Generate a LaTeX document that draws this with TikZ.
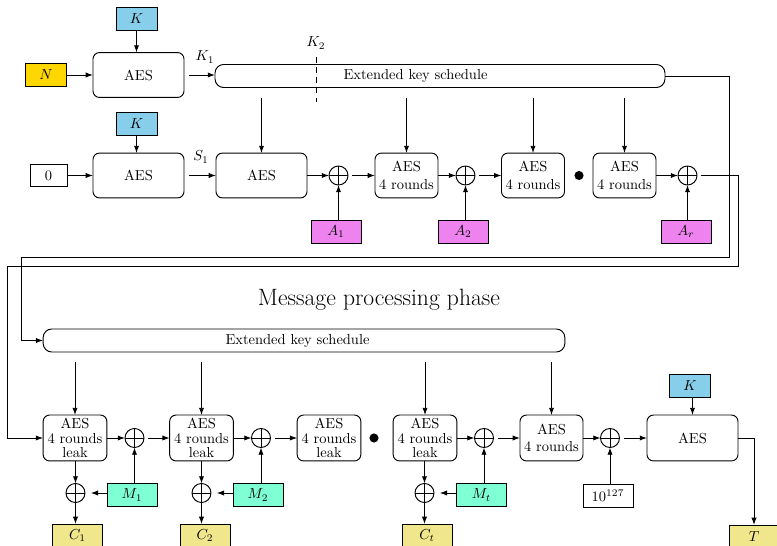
\documentclass[tikz,border=0pt]{standalone}
\usetikzlibrary{arrows.meta}
\definecolor{keyblue}{RGB}{135,206,235}
\definecolor{noncegold}{RGB}{255,215,0}
\definecolor{adviolet}{RGB}{238,130,238}
\definecolor{msgaqua}{RGB}{127,255,212}
\definecolor{outkhaki}{RGB}{240,230,140}
\begin{document}
\begin{tikzpicture}[x=0.69pt,y=-0.69pt,
  every node/.style={inner sep=0pt, outer sep=0pt},
  line width=0.65pt,
  arr/.style={-{Latex[length=5pt,width=3.6pt]}},
  aesbox/.style={draw, rounded corners=4.5pt, minimum width=62.8pt, minimum height=31pt, align=center},
  rndbox/.style={aesbox, minimum width=43.5pt},
  leakbox/.style={aesbox, minimum width=44pt, minimum height=31.7pt, font=\fontsize{10pt}{9.9pt}\selectfont},
  ksbox/.style={draw, rounded corners=6pt, minimum height=15.9pt},
  smallbox/.style={draw, minimum width=34.5pt, minimum height=15.9pt},
  keybox/.style={smallbox, fill=keyblue, minimum width=28.3pt},
  noncebox/.style={smallbox, fill=noncegold, minimum width=28.3pt},
  adbox/.style={smallbox, fill=adviolet},
  msgbox/.style={smallbox, fill=msgaqua},
  outbox/.style={smallbox, fill=outkhaki},
  xor/.style={draw, circle, minimum size=13.1pt,
    path picture={\draw (path picture bounding box.north) -- (path picture bounding box.south)
                        (path picture bounding box.west) -- (path picture bounding box.east);}},
  dotmark/.style={circle, fill, minimum size=6.3pt},
  fromks/.style={arr, shorten <=7pt},
  fromxor/.style={arr, shorten <=3pt}
]
\clip (0,0) rectangle (777,546);

% ---- associated data phase: key derivation ----
\node[keybox] (k1) at (136.5,18.5) {$K$};
\node[noncebox] (n) at (46,75) {$N$};
\node[aesbox] (aes1) at (138.5,75) {AES};
\node[ksbox, minimum width=310.5pt] (eks1) at (440,76) {};
\node (eks1t) at (415.5,76) {Extended key schedule};
\node (k1lab) at (205,57) {$K_1$};
\node (k2lab) at (316,43) {$K_2$};
\coordinate (k2top) at (316,57);
\coordinate (k2bot) at (316,102);
\draw[dash pattern=on 4pt off 3pt] (k2top) -- (k2bot);

\draw[arr] (k1.south) -- (k1.south |- aes1.north);
\draw[arr] (n) -- (aes1);
\draw[arr, shorten <=3.5pt] (aes1.east) -- (aes1.east -| eks1.west);

% ---- associated data absorption ----
\node[keybox] (k2) at (136.5,123.5) {$K$};
\node[smallbox, minimum width=25.5pt, minimum height=15.2pt] (zero) at (48.5,175.5) {0};
\node[aesbox] (aes1b) at (138.5,175.5) {AES};
\node (s1lab) at (201,157) {$S_1$};
\node[aesbox] (aes2) at (261.5,175.5) {AES};
\node[xor] (x1) at (338.5,175.5) {};
\node[adbox] (a1) at (336,231.5) {$A_1$};
\node[rndbox] (r1) at (406.5,175.5) {AES\\4 rounds};
\node[xor] (x2) at (465.5,175.5) {};
\node[adbox] (a2) at (463,231.5) {$A_2$};
\node[rndbox] (r2) at (533,175.5) {AES\\4 rounds};
\node[dotmark] (d1) at (579,175.5) {};
\node[rndbox] (r3) at (624.5,175.5) {AES\\4 rounds};
\node[xor] (x3) at (687.5,175.5) {};
\node[adbox] (ar) at (686,231.5) {$A_r$};

\draw[arr] (k2.south) -- (k2.south |- aes1b.north);
\draw[arr] (zero) -- (aes1b);
\draw[arr, shorten <=3.5pt] (aes1b) -- (aes2);
\draw[arr] (aes2) -- (x1);
\draw[fromxor] (x1) -- (r1);
\draw[arr] (r1) -- (x2);
\draw[fromxor] (x2) -- (r2);
\draw[arr] (r3) -- (x3);
\draw[arr] (a1.north -| x1) -- (x1.south);
\draw[arr] (a2.north -| x2) -- (x2.south);
\draw[arr] (ar.north -| x3) -- (x3.south);

\draw[fromks] (eks1.south -| aes2) -- (aes2.north);
\draw[fromks] (eks1.south -| r1) -- (r1.north);
\draw[fromks] (eks1.south -| r2) -- (r2.north);
\draw[fromks] (eks1.south -| r3) -- (r3.north);

% ---- links into the message phase ----
\coordinate (bendA) at (729,257);
\coordinate (bendB) at (21,257);
\coordinate (bendC) at (738,266);
\coordinate (bendD) at (7,266);

\node[font=\fontsize{16.3pt}{19pt}\selectfont] (phase) at (379,300) {Message processing phase};

\node[ksbox, minimum width=360pt] (eks2) at (304,340.5) {};
\node (eks2t) at (297.5,340.5) {Extended key schedule};

\draw[arr] (eks1.east) -| (bendA) -- (bendB) |- (eks2.west);

% ---- message processing ----
\node[leakbox] (b1) at (75,438) {AES\\4 rounds\\leak};
\node[xor] (y1) at (134.5,438) {};
\node[leakbox] (b2) at (201.5,438) {AES\\4 rounds\\leak};
\node[xor] (y2) at (261,438) {};
\node[leakbox] (b3) at (329,438) {AES\\4 rounds\\leak};
\node[dotmark] (d2) at (374,438) {};
\node[leakbox] (b4) at (425,438) {AES\\4 rounds\\leak};
\node[xor] (y4) at (484,438) {};
\node[rndbox, minimum height=31.7pt] (b5) at (551.5,438) {AES\\4 rounds};
\node[xor] (y5) at (610,438) {};
\node[aesbox, minimum height=31.7pt] (fin) at (692.5,438) {AES};
\node[keybox] (k3) at (690,386) {$K$};

\node[xor] (z1) at (75.5,493) {};
\node[msgbox] (m1) at (132,495) {$M_1$};
\node[outbox] (c1) at (77.5,535.5) {$C_1$};
\node[xor] (z2) at (201.5,493) {};
\node[msgbox] (m2) at (258,495) {$M_2$};
\node[outbox] (c2) at (205,535.5) {$C_2$};
\node[xor] (z4) at (424.5,493) {};
\node[msgbox] (mt) at (481.5,495) {$M_t$};
\node[outbox] (ct) at (427,535.5) {$C_t$};
\node[smallbox] (pad) at (608,495.5) {$10^{127}$};
\node[outbox] (t) at (754,536.5) {$T$};

\draw[arr, shorten <=3pt] (x3.east) -| (bendC) -- (bendD) |- (b1.west);

\draw[arr] (b1) -- (y1);
\draw[fromxor] (y1) -- (b2);
\draw[arr] (b2) -- (y2);
\draw[fromxor] (y2) -- (b3);
\draw[arr] (b4) -- (y4);
\draw[fromxor] (y4) -- (b5);
\draw[arr] (b5) -- (y5);
\draw[fromxor] (y5) -- (fin);
\draw[arr] (k3.south -| fin) -- (fin.north);
\draw[arr] (fin.east) -| (t.north);

\draw[fromks] (eks2.south -| b1) -- (b1.north);
\draw[fromks] (eks2.south -| b2) -- (b2.north);
\draw[fromks] (eks2.south -| b4) -- (b4.north);
\draw[fromks] (eks2.south -| b5) -- (b5.north);

\draw[arr] (m1.north -| y1) -- (y1.south);
\draw[arr] (m2.north -| y2) -- (y2.south);
\draw[arr] (mt.north -| y4) -- (y4.south);
\draw[arr] (pad.north -| y5) -- (y5.south);

\draw[arr] (b1.south -| z1) -- (z1.north);
\draw[arr] (b2.south -| z2) -- (z2.north);
\draw[arr] (b4.south -| z4) -- (z4.north);
\draw[arr, shorten >=4pt] (m1.west |- z1) -- (z1.east);
\draw[arr, shorten >=4pt] (m2.west |- z2) -- (z2.east);
\draw[arr, shorten >=4pt] (mt.west |- z4) -- (z4.east);
\draw[arr] (z1.south) -- (c1.north -| z1);
\draw[arr] (z2.south) -- (c2.north -| z2);
\draw[arr] (z4.south) -- (ct.north -| z4);
\end{tikzpicture}
\end{document}
